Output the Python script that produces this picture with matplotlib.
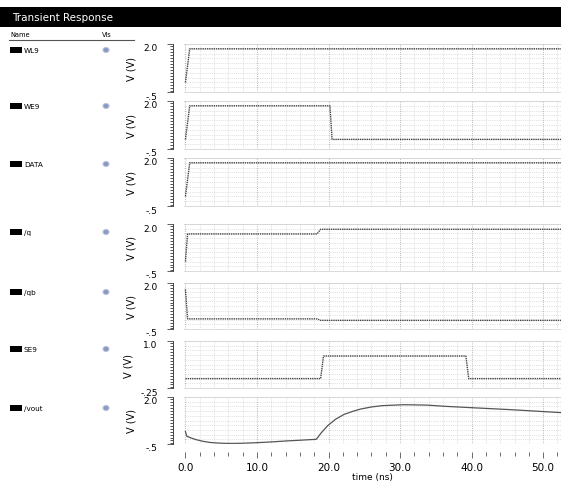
import matplotlib
matplotlib.use('Agg')
import matplotlib.pyplot as plt
import matplotlib.patches as mpatches
from matplotlib.ticker import MultipleLocator, FixedLocator
from matplotlib.transforms import ScaledTranslation
import numpy as np

# signal names and read-off waveform points (time in ns, volts)
names = ['WL9', 'WE9', 'DATA', '/q', '/qb', 'SE9', '/vout']

t_wl9 = [0.0, 0.6, 52.5]
v_wl9 = [0.0, 1.75, 1.75]

t_we9 = [0.0, 0.6, 20.2, 20.5, 52.5]
v_we9 = [0.0, 1.75, 1.75, 0.0, 0.0]

t_data = [0.0, 0.6, 52.5]
v_data = [0.0, 1.75, 1.75]

t_q = [0.0, 0.3, 18.4, 18.9, 52.5]
v_q = [0.0, 1.47, 1.47, 1.72, 1.72]

t_qb = [0.0, 0.3, 18.4, 18.9, 52.5]
v_qb = [1.65, 0.05, 0.05, -0.03, -0.03]

t_se9 = [0.0, 18.9, 19.3, 39.2, 39.6, 52.5]
v_se9 = [0.0, 0.0, 0.6, 0.6, 0.0, 0.0]

t_vout = [0.0, 0.2, 0.8, 1.5, 2.5, 3.5, 5.0, 6.5, 8.0, 10.0, 12.0, 14.0, 16.0, 18.3,
          19.0, 19.9, 21.0, 22.2, 23.5, 24.5, 26.0, 27.5, 30.5, 33.7, 36.5, 40.6, 45.3, 52.5]
v_vout = [0.16, -0.09, -0.18, -0.27, -0.36, -0.42, -0.46, -0.47, -0.46, -0.43, -0.39, -0.34, -0.30, -0.25,
          0.10, 0.48, 0.82, 1.08, 1.25, 1.36, 1.47, 1.54, 1.59, 1.57, 1.50, 1.42, 1.33, 1.17]

series_t = [t_wl9, t_we9, t_data, t_q, t_qb, t_se9, t_vout]
series_v = [v_wl9, v_we9, v_data, v_q, v_qb, v_se9, v_vout]
y_ranges = [(-0.5, 2.0)] * 5 + [(-0.25, 1.0), (-0.5, 2.0)]
y_labels = [('-.5', '2.0')] * 5 + [('-.25', '1.0'), ('-.5', '2.0')]
x_ticks = [0, 10, 20, 30, 40, 50]
x_ticklabels = ['0.0', '10.0', '20.0', '30.0', '40.0', '50.0']

# panel positions in pixels (top, bottom)
W, H = 561, 485
panel_px = [(45, 93), (102, 150), (159, 207), (225, 272), (284, 330), (342, 389), (398, 445)]
name_y = [51, 107, 165, 233, 293, 350, 409]
plot_left = 184


def fx(px):
    return px / W


def fy(py):
    return 1 - py / H


fig = plt.figure(figsize=(W / 100, H / 100), dpi=100)
plt.rcParams['font.family'] = ['DejaVu Sans']
shift_down = ScaledTranslation(0, -3 / 100, fig.dpi_scale_trans)

# title bar and header
fig.add_artist(mpatches.Rectangle((0, fy(28)), 1, fy(8) - fy(28), transform=fig.transFigure,
                                  facecolor='black', edgecolor='none'))
fig.text(fx(12), fy(18), 'Transient Response', color='white', fontsize=7.5, va='center')
fig.text(fx(10), fy(35), 'Name', fontsize=4.8, va='center')
fig.text(fx(102), fy(35), 'Vis', fontsize=4.8, va='center')
fig.add_artist(plt.Line2D([fx(9), fx(134)], [fy(41), fy(41)], transform=fig.transFigure,
                          color='#555555', lw=0.8))

for i in range(len(names)):
    top, bot = panel_px[i]
    ax = fig.add_axes([fx(plot_left), fy(bot), 1 - fx(plot_left), (bot - top) / H])
    lo, hi = y_ranges[i]
    ax.set_xlim(-0.2, 52.5)
    ax.set_ylim(lo, hi)

    # grid
    for gy in np.arange(lo, hi + 1e-9, (hi - lo) / 10):
        ax.axhline(gy, color='#c8c8c8', lw=0.5, ls=':', zorder=0)
    for gx in np.arange(0, 53, 2):
        if gx % 10 == 0:
            ax.axvline(gx, color='#a0a0a0', lw=0.6, ls=':', zorder=0)
        else:
            ax.axvline(gx, color='#c8c8c8', lw=0.5, ls=':', zorder=0)

    if i == 6:
        ax.plot(series_t[i], series_v[i], color='#555555', lw=0.9)
    else:
        ax.plot(series_t[i], series_v[i], color='#444444', lw=1.0, ls=(0, (1, 0.6)))

    # left ruler
    ax.spines['left'].set_position(('outward', 8))
    ax.spines['left'].set_color('#444444')
    ax.spines['left'].set_linewidth(0.7)
    ax.yaxis.set_major_locator(FixedLocator([lo, hi]))
    ax.set_yticklabels(list(y_labels[i]))
    ax.yaxis.set_minor_locator(MultipleLocator((hi - lo) / 16))
    ax.tick_params(axis='y', which='major', length=4, width=0.6, color='#444444',
                   labelsize=6.5, pad=7)
    ax.tick_params(axis='y', which='minor', length=2.5, width=0.6, color='#333333')
    for lab in ax.get_yticklabels():
        lab.set_transform(lab.get_transform() + shift_down)
    ax.set_ylabel('V (V)', fontsize=7, labelpad=5)

    for s in ['top', 'right']:
        ax.spines[s].set_color('#cccccc')
        ax.spines[s].set_linewidth(0.5)

    if i == 6:
        ax.axhline(lo, color='#cccccc', lw=0.8)
        ax.spines['bottom'].set_position(('outward', 6))
        ax.spines['bottom'].set_visible(False)
        ax.set_xticks(x_ticks)
        ax.set_xticklabels(x_ticklabels)
        ax.xaxis.set_minor_locator(MultipleLocator(2))
        ax.tick_params(axis='x', which='major', length=4, width=0.6, color='#555555',
                       labelsize=7.5, pad=3)
        ax.tick_params(axis='x', which='minor', length=3, width=0.6, color='#555555')
        ax.set_xlabel('time (ns)', fontsize=6.5, labelpad=0)
    else:
        ax.spines['bottom'].set_color('#cccccc')
        ax.spines['bottom'].set_linewidth(0.5)
        ax.set_xticks([])

    # name column
    ny = name_y[i]
    fig.add_artist(mpatches.Rectangle((fx(10), fy(ny + 3)), 12 / W, 6 / H, transform=fig.transFigure,
                                      facecolor='black', edgecolor='none'))
    fig.text(fx(24), fy(ny), names[i], fontsize=5.2, va='center')
    fig.add_artist(mpatches.Ellipse((fx(106), fy(ny)), 6 / W, 5 / H, transform=fig.transFigure,
                                    facecolor='#8797c0', edgecolor='#b8c2dc', lw=0.8))

fig.savefig('out.png', dpi=100)
